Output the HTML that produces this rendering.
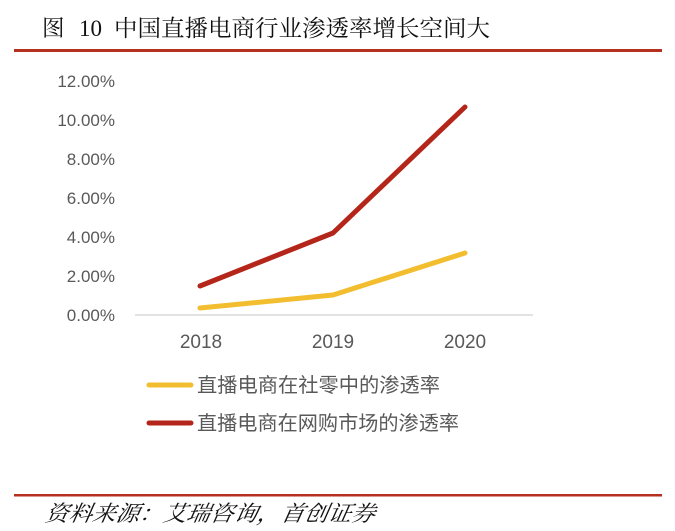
<!DOCTYPE html>
<html>
<head>
<meta charset="utf-8">
<style>
html,body{margin:0;padding:0;background:#fff;}
body{width:675px;height:531px;overflow:hidden;}
svg{display:block;}
</style>
</head>
<body>
<svg width="675" height="531" viewBox="0 0 675 531" xmlns="http://www.w3.org/2000/svg">
  <!-- Title -->
  <text x="42" y="36" font-family="'Liberation Serif','Noto Serif CJK SC',serif" font-size="22.5" fill="#111">图</text>
  <text x="79" y="36" font-family="'Liberation Serif',serif" font-size="23" fill="#111">10</text>
  <text x="114" y="36" font-family="'Liberation Serif','Noto Serif CJK SC',serif" font-size="23" fill="#111" textLength="376" lengthAdjust="spacingAndGlyphs">中国直播电商行业渗透率增长空间大</text>
  <rect x="14" y="49" width="648" height="3" fill="#B5301F"/>

  <!-- Y labels -->
  <g font-family="'Liberation Sans',sans-serif" font-size="17" fill="#595959" text-anchor="end">
    <text x="115" y="321">0.00%</text>
    <text x="115" y="282">2.00%</text>
    <text x="115" y="243">4.00%</text>
    <text x="115" y="204">6.00%</text>
    <text x="115" y="165">8.00%</text>
    <text x="115" y="126">10.00%</text>
    <text x="115" y="87">12.00%</text>
  </g>

  <!-- Axis -->
  <line x1="135" y1="315" x2="533" y2="315" stroke="#d9d9d9" stroke-width="1.5"/>

  <!-- X labels -->
  <g font-family="'Liberation Sans',sans-serif" font-size="19" fill="#595959" text-anchor="middle">
    <text x="201" y="348">2018</text>
    <text x="333" y="348">2019</text>
    <text x="465" y="348">2020</text>
  </g>

  <!-- Series -->
  <polyline points="200,308 333,295 465,253" fill="none" stroke="#F2BE2F" stroke-width="5" stroke-linecap="round" stroke-linejoin="round"/>
  <polyline points="200,286 333,233 465,107" fill="none" stroke="#B5261A" stroke-width="5" stroke-linecap="round" stroke-linejoin="round"/>

  <!-- Legend -->
  <line x1="149" y1="385" x2="191" y2="385" stroke="#F2BE2F" stroke-width="5" stroke-linecap="round"/>
  <text x="197" y="392" font-family="'Liberation Sans','Noto Sans CJK SC',sans-serif" font-size="20" fill="#595959" textLength="243" lengthAdjust="spacingAndGlyphs">直播电商在社零中的渗透率</text>
  <line x1="149" y1="423" x2="191" y2="423" stroke="#B5261A" stroke-width="5" stroke-linecap="round"/>
  <text x="197" y="430" font-family="'Liberation Sans','Noto Sans CJK SC',sans-serif" font-size="20" fill="#595959" textLength="262" lengthAdjust="spacingAndGlyphs">直播电商在网购市场的渗透率</text>

  <!-- Bottom rule & source -->
  <rect x="14" y="494" width="648" height="2.5" fill="#B5301F"/>
  <text x="44" y="521" font-family="'Noto Serif CJK SC',serif" font-style="italic" font-size="22" fill="#111" textLength="330" lengthAdjust="spacingAndGlyphs" transform="skewX(-10) translate(92,0)">资料来源：艾瑞咨询，首创证券</text>
</svg>
</body>
</html>
